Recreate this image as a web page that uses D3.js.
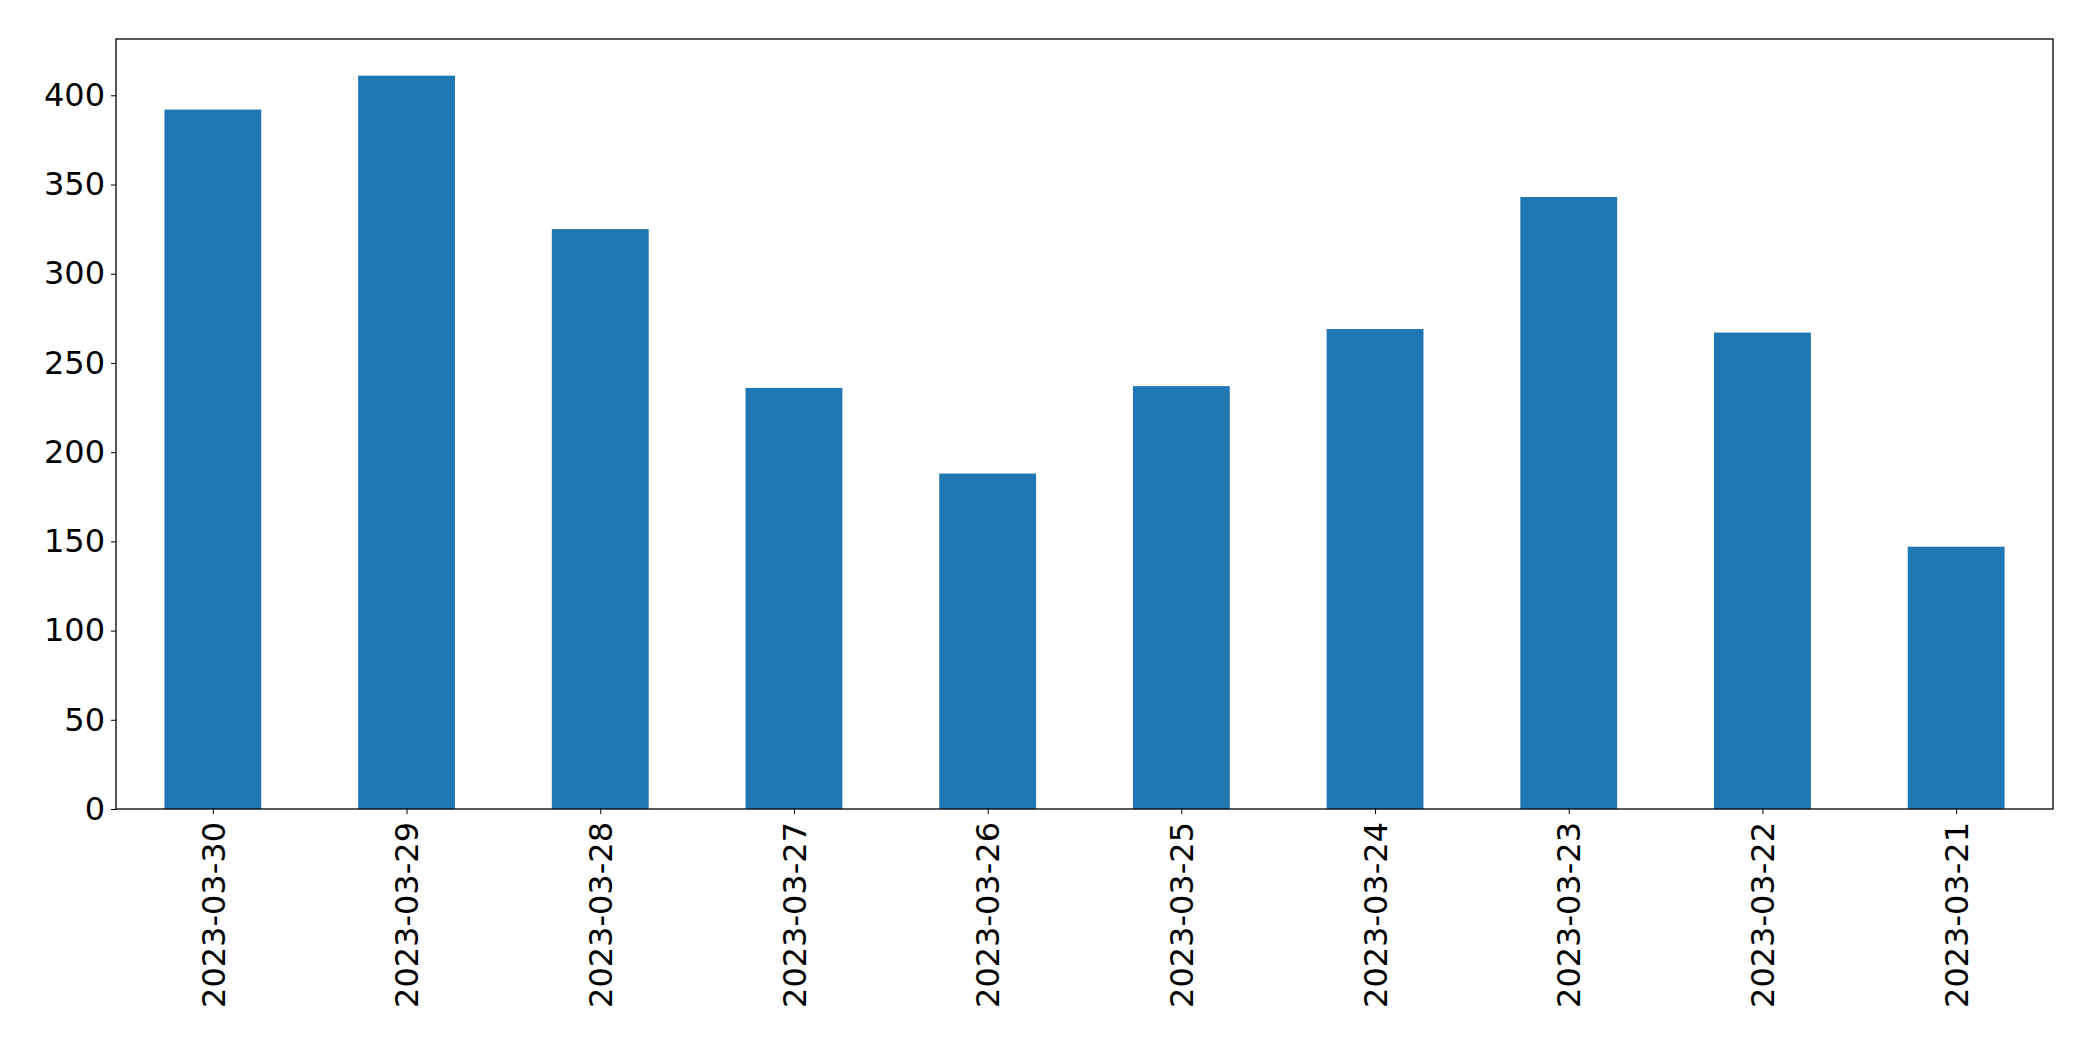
<!DOCTYPE html>
<html>
<head>
<script src="https://d3js.org/d3.v7.min.js"></script>
<style>body{margin:0;background:#fff}</style>
</head>
<body>
<div id="chart"></div>
<script>
var dates = ["2023-03-30","2023-03-29","2023-03-28","2023-03-27","2023-03-26","2023-03-25","2023-03-24","2023-03-23","2023-03-22","2023-03-21"];
var counts = [392, 411, 325, 236, 188, 237, 269, 343, 267, 147];
var yTicks = [0, 50, 100, 150, 200, 250, 300, 350, 400];

var W = 2093, H = 1061;
var margin = {top: 39, right: 40, bottom: 252, left: 116};
var width = W - margin.left - margin.right,
    height = H - margin.top - margin.bottom;

var svg = d3.select("#chart").append("svg")
    .attr("width", W).attr("height", H)
  .append("g")
    .attr("transform", "translate(" + margin.left + "," + margin.top + ")");

var x = d3.scaleLinear().domain([-0.5, dates.length - 0.5]).range([0, width]);
var y = d3.scaleLinear().domain([0, d3.max(counts) * 1.05]).range([height, 0]);
var bw = x(0.5) - x(0);

svg.selectAll("rect.bar").data(counts).enter().append("rect")
    .attr("x", function(d, i) { return x(i) - bw / 2; })
    .attr("y", function(d) { return y(d); })
    .attr("width", bw)
    .attr("height", function(d) { return height - y(d); })
    .attr("fill", "#1f77b4");

// y axis
var ya = svg.append("g")
    .call(d3.axisLeft(y).tickValues(yTicks).tickSize(5).tickPadding(6));
ya.selectAll("text").style("font-family", "DejaVu Sans").style("font-size", "32px").attr("fill", "#000");
ya.select(".domain").remove();

// x axis
var xa = svg.append("g")
    .attr("transform", "translate(0," + height + ")")
    .call(d3.axisBottom(x).tickValues(d3.range(dates.length)).tickFormat(function(i) { return dates[i]; }).tickSize(5));
xa.select(".domain").remove();
xa.selectAll("text")
    .style("font-family", "DejaVu Sans").style("font-size", "32px").attr("fill", "#000")
    .attr("transform", "rotate(-90)")
    .attr("text-anchor", "end")
    .attr("x", -13).attr("y", 0).attr("dy", "0.35em");

// frame
svg.append("rect").attr("width", width).attr("height", height)
    .attr("fill", "none").attr("stroke", "#000").attr("stroke-width", 1.3);
</script>
</body>
</html>
